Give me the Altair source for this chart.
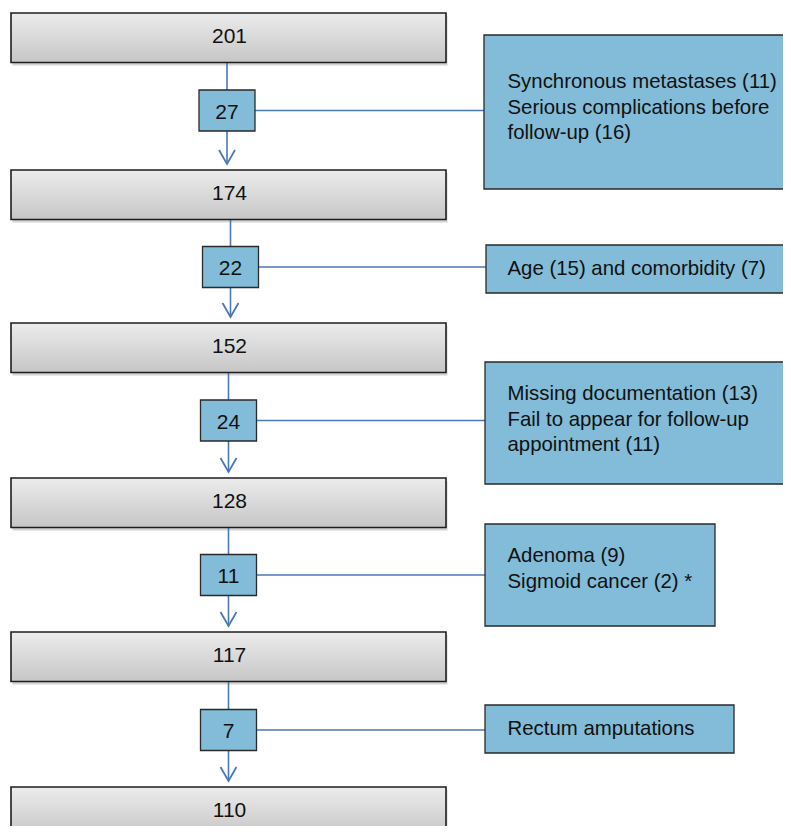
import altair as alt
import pandas as pd

# ---------------- data ----------------
main_counts = [201, 174, 152, 128, 117, 110]
excluded_counts = [27, 22, 24, 11, 7]
reason_lines = [
    ["Synchronous metastases (11)", "Serious complications before", "follow-up (16)"],
    ["Age (15) and comorbidity (7)"],
    ["Missing documentation (13)", "Fail to appear for follow-up", "appointment (11)"],
    ["Adenoma (9)", "Sigmoid cancer (2) *"],
    ["Rectum amputations"],
]

# ---------------- layout (figure pixel space) ----------------
MAIN_X0, MAIN_X1, MAIN_H = 11, 446, 49.5
main_top = [13, 170, 323, 478, 632, 787]
step_cx = [227, 230.5, 228.5, 228.5, 228.5]
step_cy = [110.5, 267, 420.5, 575, 730]
SMALL_W, SMALL_H = 56, 41
reason_box = [(484, 800, 35, 189), (486, 790, 245, 293), (485, 787, 362, 484),
              (485, 715, 524, 626), (485, 734, 705, 753)]
reason_first_baseline = [88, 275, 400, 562, 735]
LINE_GAP = 25.5
TEXT_X = 507.5
HEAD_W, HEAD_H, TIP_GAP = 8, 14, 6

LINE_COLOR = "#4a78b8"
BLUE = "#82bcd8"
FONT = "Liberation Sans"

# ---------------- tables ----------------
main_rows = []
for i, c in enumerate(main_counts):
    t = main_top[i]
    main_rows.append(dict(x0=MAIN_X0, x1=MAIN_X1, y0=t, y1=t + MAIN_H,
                          sx0=MAIN_X0 + 1.5, sx1=MAIN_X1 + 1.5, sy0=t + 3, sy1=t + MAIN_H + 3,
                          tx=(MAIN_X0 + MAIN_X1) / 2 + 1, ty=t + 30, label=str(c)))
main_df = pd.DataFrame(main_rows)

small_rows, seg_rows, head_rows, rbox_rows, rtext_rows = [], [], [], [], []
for i, c in enumerate(excluded_counts):
    cx, cy = step_cx[i], step_cy[i]
    small_rows.append(dict(x0=cx - SMALL_W / 2, x1=cx + SMALL_W / 2,
                           y0=cy - SMALL_H / 2, y1=cy + SMALL_H / 2,
                           tx=cx, ty=cy + 8, label=str(c)))
    tip = main_top[i + 1] - TIP_GAP
    seg_rows.append(dict(x=cx, x2=cx, y=main_top[i] + MAIN_H, y2=tip))
    bx0, bx1, by0, by1 = reason_box[i]
    seg_rows.append(dict(x=cx + SMALL_W / 2, x2=bx0, y=cy, y2=cy))
    for k, (hx, hy) in enumerate([(cx - HEAD_W, tip - HEAD_H), (cx, tip), (cx + HEAD_W, tip - HEAD_H)]):
        head_rows.append(dict(x=hx, y=hy, g=i, o=k))
    rbox_rows.append(dict(x0=bx0, x1=bx1, y0=by0, y1=by1))
    for j, line in enumerate(reason_lines[i]):
        rtext_rows.append(dict(x=TEXT_X, y=reason_first_baseline[i] + j * LINE_GAP, label=line))

small_df = pd.DataFrame(small_rows)
seg_df = pd.DataFrame(seg_rows)
head_df = pd.DataFrame(head_rows)
rbox_df = pd.DataFrame(rbox_rows)
rtext_df = pd.DataFrame(rtext_rows)

# ---------------- scales ----------------
W, H = 775, 818
XS = alt.Scale(domain=[8, 8 + W], nice=False, zero=False)
YS = alt.Scale(domain=[8, 8 + H], nice=False, zero=False, reverse=True)


def X(f):
    return alt.X(f, type="quantitative", scale=XS, axis=None)


def Y(f):
    return alt.Y(f, type="quantitative", scale=YS, axis=None)


gray_grad = alt.Gradient(
    gradient="linear",
    stops=[alt.GradientStop(color="#ececec", offset=0),
           alt.GradientStop(color="#c6c6c6", offset=1)],
    x1=0, x2=0, y1=0, y2=1,
)

shadows = alt.Chart(main_df).mark_rect(fill="#d4d4d4").encode(
    x=X("sx0"), x2="sx1", y=Y("sy0"), y2="sy1")

connectors = alt.Chart(seg_df).mark_rule(color=LINE_COLOR, strokeWidth=1.6).encode(
    x=X("x"), x2="x2", y=Y("y"), y2="y2")

main_boxes = alt.Chart(main_df).mark_rect(fill=gray_grad, stroke="#1e1e1e", strokeWidth=1.6).encode(
    x=X("x0"), x2="x1", y=Y("y0"), y2="y1")

main_text = alt.Chart(main_df).mark_text(font=FONT, fontSize=21, color="#111111",
                                         baseline="alphabetic", align="center").encode(
    x=X("tx"), y=Y("ty"), text="label:N")

small_boxes = alt.Chart(small_df).mark_rect(fill=BLUE, stroke="#2a2a2a", strokeWidth=1.3).encode(
    x=X("x0"), x2="x1", y=Y("y0"), y2="y1")

small_text = alt.Chart(small_df).mark_text(font=FONT, fontSize=21, color="#111111",
                                           baseline="alphabetic", align="center").encode(
    x=X("tx"), y=Y("ty"), text="label:N")

reason_boxes = alt.Chart(rbox_df).mark_rect(fill=BLUE, stroke="#2a2a2a", strokeWidth=1.3).encode(
    x=X("x0"), x2="x1", y=Y("y0"), y2="y1")

reason_text = alt.Chart(rtext_df).mark_text(font=FONT, fontSize=20.4, color="#111111",
                                            baseline="alphabetic", align="left").encode(
    x=X("x"), y=Y("y"), text="label:N")

heads = alt.Chart(head_df).mark_line(color=LINE_COLOR, strokeWidth=1.8, strokeJoin="miter").encode(
    x=X("x"), y=Y("y"), detail="g:N", order="o:Q")

chart = alt.layer(
    shadows, connectors, main_boxes, main_text, small_boxes, small_text,
    reason_boxes, reason_text, heads,
).properties(
    width=W, height=H, padding=0, autosize=alt.AutoSizeParams(type="none"), background="white"
).configure_view(stroke=None)

chart.save("out.html", embed_options={"renderer": "svg", "actions": False})
